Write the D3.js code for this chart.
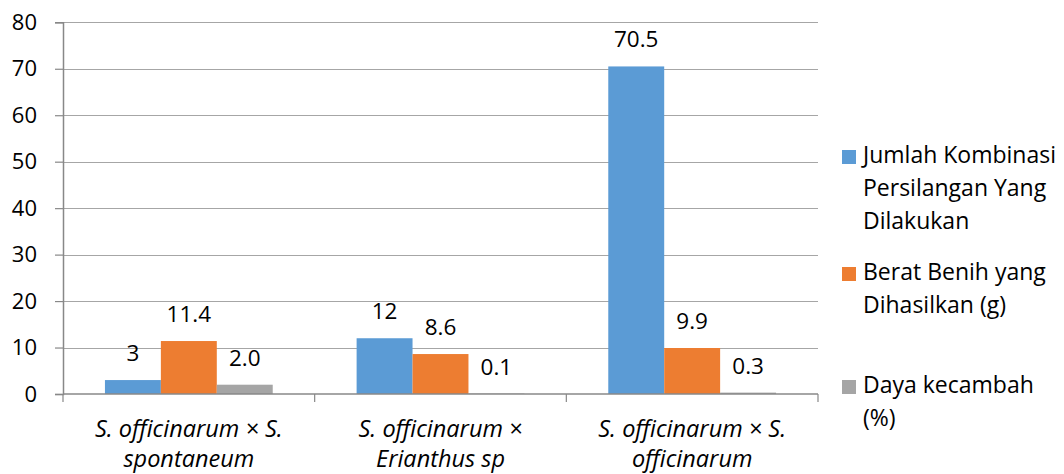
<!DOCTYPE html>
<html><head><meta charset="utf-8">
<script src="https://cdn.jsdelivr.net/npm/d3@7"></script>
<style>body{margin:0;background:#fff;} text{font-family:"Open Sans",sans-serif;fill:#000;}</style>
</head><body><svg id="c" width="1064" height="474"></svg>
<script>
const categories = [["S. officinarum × S.","spontaneum"],["S. officinarum ×","Erianthus sp"],["S. officinarum × S.","officinarum"]];
const seriesNames = [["Jumlah Kombinasi","Persilangan Yang","Dilakukan"],["Berat Benih yang","Dihasilkan (g)"],["Daya kecambah","(%)"]];
const jumlah = [3, 12, 70.5];
const berat = [11.4, 8.6, 9.9];
const daya = [2.0, 0.1, 0.3];
const valueLabels = [["3","12","70.5"],["11.4","8.6","9.9"],["2.0","0.1","0.3"]];
const yTicks = [0,10,20,30,40,50,60,70,80];
const colors = ["#5B9BD5","#ED7D31","#A5A5A5"];

const series = [jumlah, berat, daya];
const svg = d3.select("#c");
const L = 63, R = 818, T = 22.3, B = 394;
const y = d3.scaleLinear().domain([0,80]).range([B,T]);
const x0 = d3.scaleBand().domain(d3.range(categories.length)).range([L,R]).paddingInner(0).paddingOuter(0);
const x1 = d3.scaleBand().domain(d3.range(series.length)).range([0,x0.bandwidth()]).paddingOuter(0.75).paddingInner(0);

// gridlines
svg.append("g").selectAll("line").data(yTicks.filter(d=>d>0)).join("line")
  .attr("x1",L).attr("x2",R).attr("y1",d=>Math.round(y(d))+0.5).attr("y2",d=>Math.round(y(d))+0.5)
  .attr("stroke","#A6A6A6").attr("stroke-width",1.2);

// y axis
const ya = svg.append("g").attr("transform",`translate(${L},0)`)
  .call(d3.axisLeft(y).tickValues(yTicks).tickSize(8).tickPadding(18));
ya.select(".domain").attr("stroke","#888").attr("stroke-width",1.5);
ya.selectAll(".tick line").attr("stroke","#888").attr("stroke-width",1.2);
ya.selectAll(".tick text").style("font-size","22px").style("font-family","'Open Sans',sans-serif").attr("fill","#000");

// bars
const g = svg.append("g");
series.forEach((s,si)=>{
  g.selectAll(".b"+si).data(s).join("rect")
    .attr("x",(d,i)=>x0(i)+x1(si)).attr("width",x1.bandwidth())
    .attr("y",d=>y(d)).attr("height",d=>B-y(d)).attr("fill",colors[si]);
  g.selectAll(".l"+si).data(s).join("text")
    .attr("x",(d,i)=>x0(i)+x1(si)+x1.bandwidth()/2).attr("y",d=>y(d)-19)
    .attr("text-anchor","middle").style("font-size","22.5px")
    .text((d,i)=>valueLabels[si][i]);
});

// x axis
const xa = svg.append("g").attr("transform",`translate(0,${B})`);
xa.append("line").attr("x1",L).attr("x2",R).attr("y1",0).attr("y2",0).attr("stroke","#888").attr("stroke-width",1.5);
xa.selectAll(".xt").data(d3.range(categories.length+1)).join("line")
  .attr("x1",i=>i<categories.length?x0(i):R).attr("x2",i=>i<categories.length?x0(i):R)
  .attr("y1",0).attr("y2",8).attr("stroke","#888").attr("stroke-width",1.2);
categories.forEach((c,i)=>{
  const t = xa.append("text").attr("text-anchor","middle").style("font-size","23.5px").style("font-style","italic")
    .attr("x",x0(i)+x0.bandwidth()/2).attr("y",43);
  c.forEach((ln,k)=>t.append("tspan").attr("x",x0(i)+x0.bandwidth()/2).attr("y",43+k*30).text(ln));
});

// legend
const legY = [163, 280, 393];
seriesNames.forEach((names,si)=>{
  svg.append("rect").attr("x",842).attr("y",legY[si]-13).attr("width",14).attr("height",14).attr("fill",colors[si]);
  names.forEach((ln,k)=>svg.append("text").attr("x",863).attr("y",legY[si]+k*33).style("font-size","23px").text(ln));
});
</script></body></html>
